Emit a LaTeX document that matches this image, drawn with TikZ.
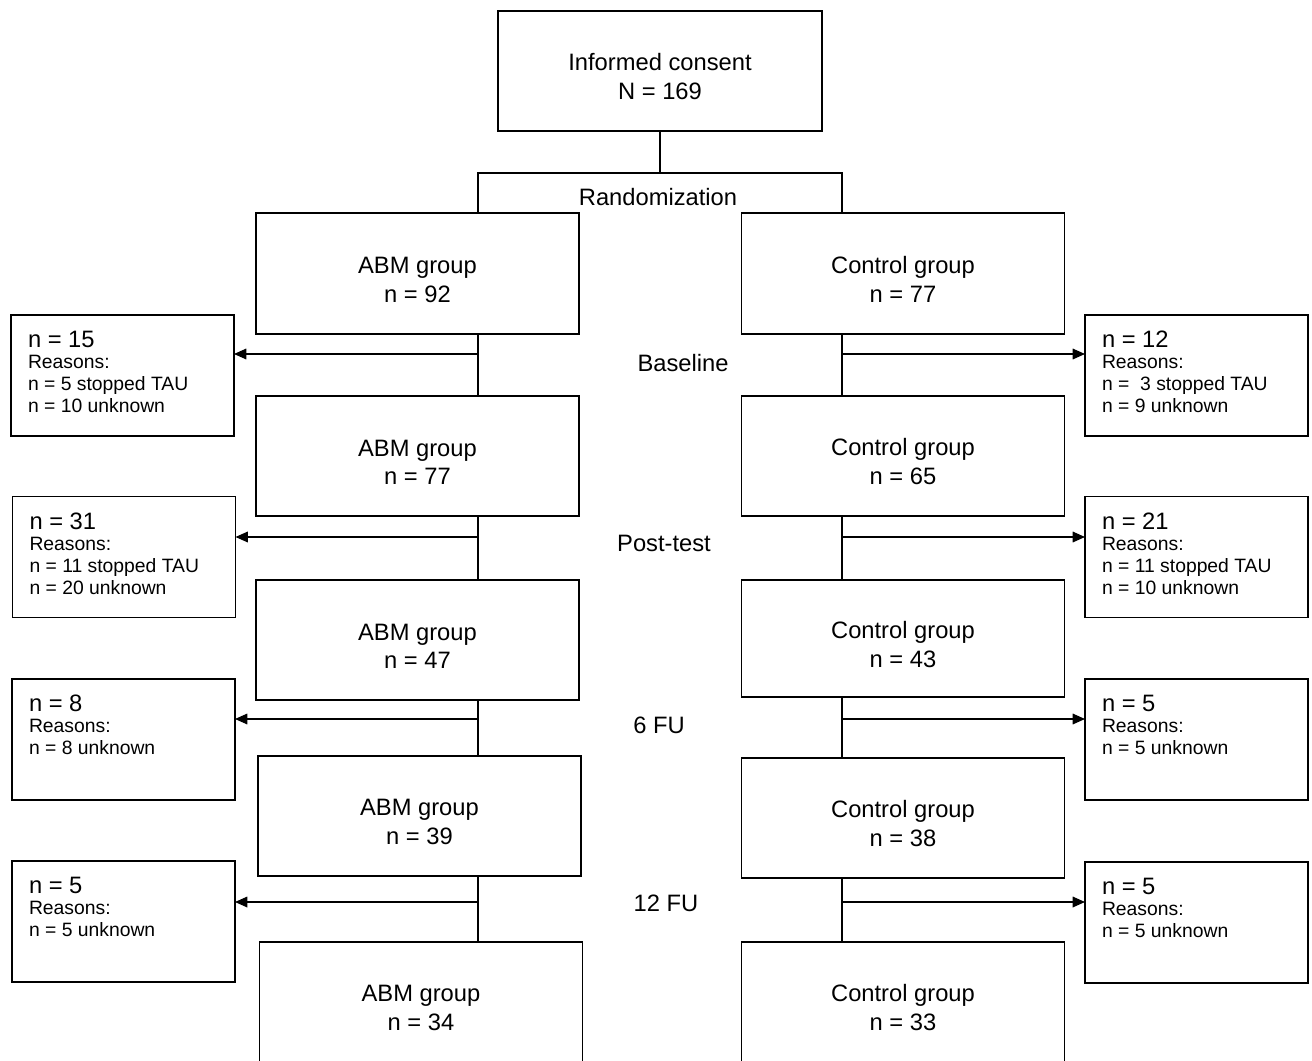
\documentclass[tikz,border=0pt]{standalone}
\usepackage{fontspec}
\setmainfont{Liberation Sans}
\usetikzlibrary{arrows.meta}
\tikzset{
  mainbox/.style={draw, line width=0.9pt, minimum width=6.46cm, minimum height=2.42cm, align=center, inner sep=0pt, font=\fontsize{13.5}{16.5}\selectfont},
  sidebox/.style={draw, line width=0.9pt, inner xsep=0.34cm, inner ysep=0.32cm, outer sep=0pt, font=\fontsize{11}{12.5}\selectfont},
  lbl/.style={font=\fontsize{13.5}{16.5}\selectfont, inner sep=1pt},
  conn/.style={line width=0.9pt},
  arr/.style={line width=0.9pt, -{Triangle[length=7pt,width=6pt]}}
}
\newcommand{\mt}[2]{\rule{0pt}{16.5pt}#1\\#2}
\newcommand{\sidetext}[1]{\parbox[c][1.78cm][t]{3.78cm}{#1}}
\newcommand{\bign}[1]{{\fontsize{13.5}{13}\selectfont #1}\par\vspace{-0.5pt}}
\begin{document}
\begin{tikzpicture}[x=0.02cm,y=-0.02cm]
\clip (0,0) rectangle (1312,1061);
\fill[white] (0,0) rectangle (1312,1061);

% main boxes
\node[mainbox, minimum width=6.48cm, minimum height=2.4cm] (consent) at (660,71) {\mt{Informed consent}{N = 169}};
\node[mainbox] (abm1) at (417.5,273.5) {\mt{ABM group}{n = 92}};
\node[mainbox] (ctl1) at (903,273.5) {\mt{Control group}{n = 77}};
\node[mainbox, minimum height=2.4cm] (abm2) at (417.5,456) {\mt{ABM group}{n = 77}};
\node[mainbox, minimum height=2.4cm] (ctl2) at (903,456) {\mt{Control group}{n = 65}};
\node[mainbox, minimum height=2.4cm] (abm3) at (417.5,640) {\mt{ABM group}{n = 47}};
\node[mainbox, minimum height=2.34cm] (ctl3) at (903,638.5) {\mt{Control group}{n = 43}};
\node[mainbox, minimum height=2.4cm] (abm4) at (419.5,816) {\mt{ABM group}{n = 39}};
\node[mainbox, minimum height=2.4cm] (ctl4) at (903,818) {\mt{Control group}{n = 38}};
\node[mainbox, minimum height=2.64cm] (abm5) at (421,1008) {ABM group\\n = 34};
\node[mainbox, minimum height=2.64cm] (ctl5) at (903,1008) {Control group\\n = 33};

% side boxes
\node[sidebox] (sl1) at (122.5,375.5) {\sidetext{\bign{n = 15}Reasons:\\n = 5 stopped TAU\\n = 10 unknown}};
\node[sidebox] (sr1) at (1196.5,375.5) {\sidetext{\bign{n = 12}Reasons:\\n =\ \ 3 stopped TAU\\n = 9 unknown}};
\node[sidebox] (sl2) at (124,557) {\sidetext{\bign{n = 31}Reasons:\\n = 11 stopped TAU\\n = 20 unknown}};
\node[sidebox] (sr2) at (1196.5,557) {\sidetext{\bign{n = 21}Reasons:\\n = 11 stopped TAU\\n = 10 unknown}};
\node[sidebox] (sl3) at (123.5,739.5) {\sidetext{\bign{n = 8}Reasons:\\n = 8 unknown}};
\node[sidebox] (sr3) at (1196.5,739.5) {\sidetext{\bign{n = 5}Reasons:\\n = 5 unknown}};
\node[sidebox] (sl4) at (123.5,921.5) {\sidetext{\bign{n = 5}Reasons:\\n = 5 unknown}};
\node[sidebox] (sr4) at (1196.5,922.5) {\sidetext{\bign{n = 5}Reasons:\\n = 5 unknown}};

% labels
\node[lbl] (rand) at (658,197) {Randomization};
\node[lbl] (base) at (683,363) {Baseline};
\node[lbl] (post) at (664,543) {Post-test};
\node[lbl] (fu6) at (659,725) {6 FU};
\node[lbl] (fu12) at (666,903) {12 FU};

% randomization fork
\coordinate (fork) at (660,173);
\coordinate (bl) at (478,173);
\coordinate (br) at (842,173);
\draw[conn] (consent.south) -- (fork);
\draw[conn] (bl |- abm1.north) -- (bl) -- (br) -- (br |- ctl1.north);

% spines
\coordinate (L) at (478,0);
\coordinate (R) at (842,0);
\draw[conn] (abm1.south -| L) -- (abm2.north -| L);
\draw[conn] (abm2.south -| L) -- (abm3.north -| L);
\draw[conn] (abm3.south -| L) -- (abm4.north -| L);
\draw[conn] (abm4.south -| L) -- (abm5.north -| L);
\draw[conn] (ctl1.south -| R) -- (ctl2.north -| R);
\draw[conn] (ctl2.south -| R) -- (ctl3.north -| R);
\draw[conn] (ctl3.south -| R) -- (ctl4.north -| R);
\draw[conn] (ctl4.south -| R) -- (ctl5.north -| R);

% dropout arrows
\coordinate (al1) at (478,354);
\coordinate (al2) at (478,537);
\coordinate (al3) at (478,719);
\coordinate (al4) at (478,902);
\coordinate (ar1) at (842,354);
\coordinate (ar2) at (842,537);
\coordinate (ar3) at (842,719);
\coordinate (ar4) at (842,902);
\draw[arr] (al1) -- (al1 -| sl1.east);
\draw[arr] (al2) -- (al2 -| sl2.east);
\draw[arr] (al3) -- (al3 -| sl3.east);
\draw[arr] (al4) -- (al4 -| sl4.east);
\draw[arr] (ar1) -- (ar1 -| sr1.west);
\draw[arr] (ar2) -- (ar2 -| sr2.west);
\draw[arr] (ar3) -- (ar3 -| sr3.west);
\draw[arr] (ar4) -- (ar4 -| sr4.west);
\end{tikzpicture}
\end{document}
